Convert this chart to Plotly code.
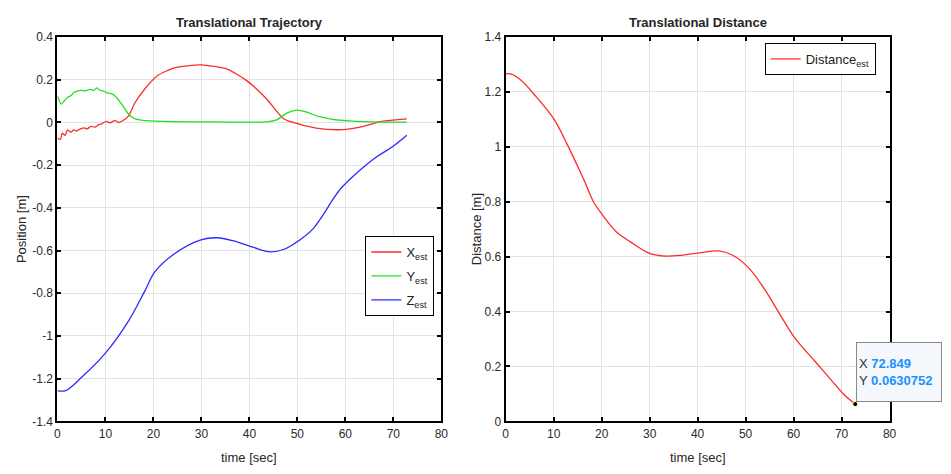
import plotly.graph_objects as go

# ---- data ----
t_x = [0, 0.6, 1.0, 1.6, 2.1, 2.8, 3.4, 4.0, 4.8, 5.6, 6.2, 7.0, 7.8, 8.6, 9.3, 10.2, 11.0, 12.0, 12.7, 13.6, 14.8, 16.1, 18.2, 20.9, 24.4, 29.9, 35.4, 39.5, 43.6, 47.0, 49.1, 53.9, 58.7, 62.8, 67.6, 72.8]
x_est = [-0.073, -0.08, -0.05, -0.06, -0.035, -0.045, -0.035, -0.04, -0.03, -0.025, -0.03, -0.018, -0.022, -0.01, -0.005, 0.005, -0.002, 0.01, 0.0, 0.008, 0.03, 0.09, 0.157, 0.22, 0.256, 0.27, 0.25, 0.195, 0.11, 0.02, 0.0, -0.026, -0.034, -0.023, 0.005, 0.017]

t_y = [0, 0.8, 1.4, 2.1, 2.8, 3.4, 4.1, 5.0, 5.8, 6.8, 7.6, 8.2, 8.8, 9.5, 10.3, 11.2, 12.0, 13.4, 14.8, 16.1, 17.8, 22.0, 29.9, 43.6, 45.7, 47.7, 49.8, 51.8, 54.6, 57.3, 60.8, 67.6, 72.8]
y_est = [0.124, 0.086, 0.1, 0.117, 0.125, 0.14, 0.147, 0.15, 0.148, 0.155, 0.15, 0.162, 0.152, 0.148, 0.14, 0.135, 0.124, 0.086, 0.04, 0.018, 0.01, 0.005, 0.003, 0.003, 0.012, 0.043, 0.058, 0.05, 0.027, 0.015, 0.008, 0.002, 0.002]

t_z = [0, 1.7, 5.2, 10.0, 14.8, 18.2, 20.3, 24.4, 29.9, 33.3, 36.7, 40.9, 44.3, 47.1, 50.5, 53.3, 55.7, 57.4, 59.1, 62.2, 66.3, 69.8, 72.8]
z_est = [-1.256, -1.256, -1.19, -1.08, -0.93, -0.79, -0.70, -0.615, -0.55, -0.54, -0.555, -0.585, -0.606, -0.595, -0.55, -0.497, -0.421, -0.36, -0.308, -0.24, -0.164, -0.114, -0.06]

t_d = [0, 1.2, 3.2, 6.0, 10.1, 12.8, 16.3, 18.3, 20.4, 23.1, 25.9, 30.0, 33.4, 36.9, 40.3, 44.4, 47.2, 50.6, 54.0, 56.8, 60.2, 64.4, 67.8, 70.5, 72.849]
d_est = [1.267, 1.265, 1.243, 1.19, 1.10, 1.01, 0.88, 0.80, 0.747, 0.69, 0.655, 0.612, 0.602, 0.606, 0.614, 0.621, 0.606, 0.56, 0.48, 0.40, 0.305, 0.22, 0.151, 0.098, 0.0630752]

tip_x = 72.849
tip_y = 0.0630752

x_ticks = [0, 10, 20, 30, 40, 50, 60, 70, 80]
pos_ticks = [0.4, 0.2, 0, -0.2, -0.4, -0.6, -0.8, -1, -1.2, -1.4]
dist_ticks = [0, 0.2, 0.4, 0.6, 0.8, 1, 1.2, 1.4]

W, H = 951, 474
FONT = "Liberation Sans, Arial, sans-serif"

fig = go.Figure()
fig.add_trace(go.Scatter(x=t_x, y=x_est, mode="lines", name="X<sub>est</sub>", line_shape="spline",
                         line=dict(color="#ff2a2a", width=1.3, smoothing=0.6), xaxis="x", yaxis="y",
                         legend="legend", legendgroup="a"))
fig.add_trace(go.Scatter(x=t_y, y=y_est, mode="lines", name="Y<sub>est</sub>", line_shape="spline",
                         line=dict(color="#22e022", width=1.3, smoothing=0.6), xaxis="x", yaxis="y",
                         legend="legend", legendgroup="b"))
fig.add_trace(go.Scatter(x=t_z, y=z_est, mode="lines", name="Z<sub>est</sub>", line_shape="spline",
                         line=dict(color="#2a2aff", width=1.3), xaxis="x", yaxis="y",
                         legend="legend", legendgroup="c"))
fig.add_trace(go.Scatter(x=t_d, y=d_est, mode="lines", name="Distance<sub>est</sub>", line_shape="spline",
                         line=dict(color="#ff2a2a", width=1.3), xaxis="x2", yaxis="y2", legend="legend2"))
fig.add_trace(go.Scatter(x=[tip_x], y=[tip_y], mode="markers", showlegend=False,
                         marker=dict(color="black", size=5, line=dict(color="#ffff99", width=1)),
                         xaxis="x2", yaxis="y2"))

axis_common = dict(showline=True, linecolor="black", linewidth=2, mirror="ticks",
                   ticks="inside", ticklen=4, tickwidth=2, tickcolor="black",
                   showgrid=True, gridcolor="#e2e2e2", gridwidth=1, zeroline=False,
                   tickfont=dict(family=FONT, size=12, color="#2a2a2a"))

fig.update_layout(
    width=W, height=H, margin=dict(l=0, r=0, t=0, b=0),
    paper_bgcolor="white", plot_bgcolor="white",
    xaxis=dict(domain=[55 / W, 443 / W], range=[0, 80], tickvals=x_ticks, anchor="y", **axis_common),
    yaxis=dict(domain=[(H - 427) / H, (H - 31) / H], range=[-1.4, 0.4], tickvals=pos_ticks,
               ticktext=[f"{v:g}" for v in pos_ticks], anchor="x", **axis_common),
    xaxis2=dict(domain=[508 / W, 896 / W], range=[0, 80], tickvals=x_ticks, anchor="y2", **axis_common),
    yaxis2=dict(domain=[(H - 427) / H, (H - 31) / H], range=[0, 1.4], tickvals=dist_ticks,
                ticktext=[f"{v:g}" for v in dist_ticks], anchor="x2", **axis_common),
    legend=dict(x=436 / W, xanchor="right", y=1 - 236 / H, yanchor="top", bgcolor="white",
                bordercolor="black", borderwidth=1, font=dict(family=FONT, size=13, color="#222"),
                tracegroupgap=4, itemwidth=30),
    legend2=dict(x=882 / W, xanchor="right", y=1 - 37 / H, yanchor="top", bgcolor="white",
                 bordercolor="black", borderwidth=1, font=dict(family=FONT, size=13, color="#222"),
                 itemwidth=30),
    font=dict(family=FONT),
)

ann = [
    dict(text="<b>Translational Trajectory</b>", x=249 / W, y=1 - 16 / H),
    dict(text="<b>Translational Distance</b>", x=702 / W, y=1 - 16 / H),
    dict(text="time [sec]", x=249 / W, y=1 - 464 / H),
    dict(text="time [sec]", x=702 / W, y=1 - 464 / H),
    dict(text="Position [m]", x=18 / W, y=1 - 229 / H, textangle=-90),
    dict(text="Distance [m]", x=478 / W, y=1 - 229 / H, textangle=-90),
]
for a in ann:
    fig.add_annotation(xref="paper", yref="paper", showarrow=False, xanchor="center", yanchor="middle",
                       font=dict(family=FONT, size=13, color="#262626"), **a)

fig.add_annotation(
    xref="x2", yref="y2", x=tip_x, y=tip_y, showarrow=True, arrowhead=0, arrowwidth=0.5,
    arrowcolor="rgba(0,0,0,0)", ax=44, ay=-32, xanchor="center", yanchor="middle",
    width=80, height=54, valign="middle",
    align="left", bgcolor="#f4f7fb", bordercolor="#8a8a8a", borderwidth=1, borderpad=2,
    text=(f"<span style='color:#333'>X</span> <b><span style='color:#1e90ff'>{tip_x}</span></b><br>"
          f"<span style='color:#333'>Y</span> <b><span style='color:#1e90ff'>{tip_y}</span></b>"),
    font=dict(family=FONT, size=13),
)

fig.write_html("out.html")
